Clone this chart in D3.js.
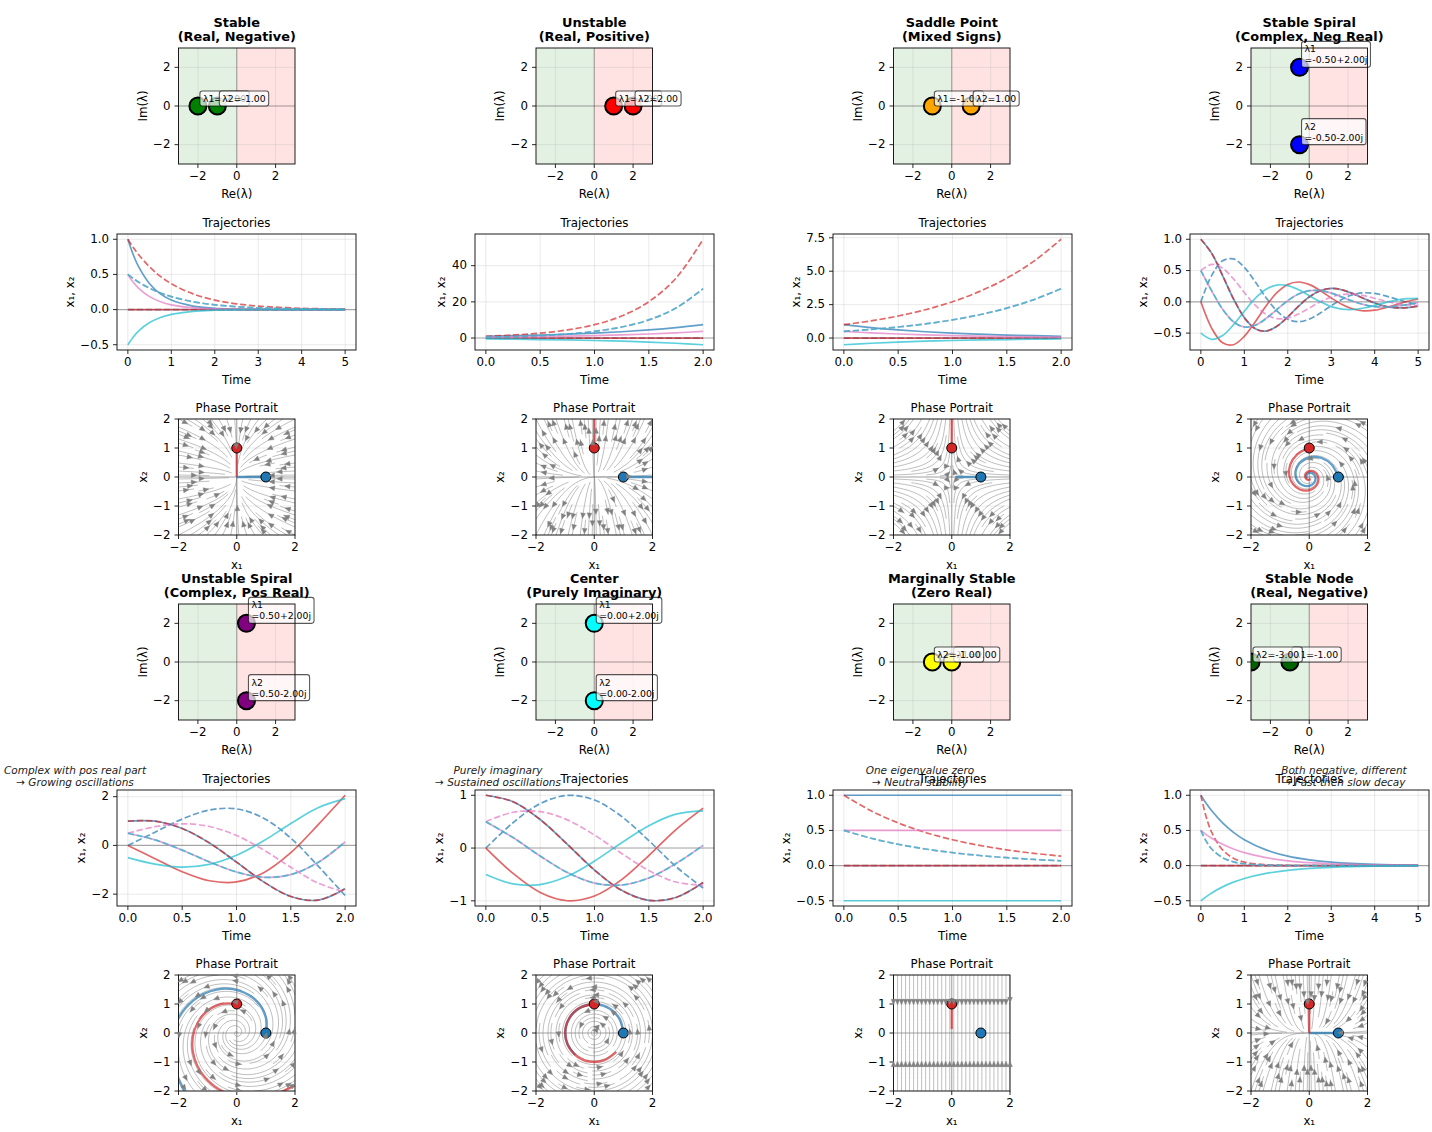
<!DOCTYPE html>
<html>
<head>
<meta charset="utf-8">
<script src="https://cdn.jsdelivr.net/npm/d3@7"></script>
<style>
  body { margin: 0; background: #fff; }
  text { font-family: "DejaVu Sans", sans-serif; fill: #000; }
</style>
</head>
<body>
<div id="maincontainer"></div>
<script>
// panel text
var titles = [
  ["Stable", "(Real, Negative)"], ["Unstable", "(Real, Positive)"],
  ["Saddle Point", "(Mixed Signs)"], ["Stable Spiral", "(Complex, Neg Real)"],
  ["Unstable Spiral", "(Complex, Pos Real)"], ["Center", "(Purely Imaginary)"],
  ["Marginally Stable", "(Zero Real)"], ["Stable Node", "(Real, Negative)"]
];
var notes = [
  null, null, null, null,
  ["Complex with pos real part", "→ Growing oscillations"],
  ["Purely imaginary", "→ Sustained oscillations"],
  ["One eigenvalue zero", "→ Neutral stability"],
  ["Both negative, different", "→ Fast then slow decay"]
];

// eigenvalues
var eigenRe = [[-2, -1], [1, 2], [-1, 1], [-0.5, -0.5], [0.5, 0.5], [0, 0], [0, -1], [-1, -3]];
var eigenIm = [[0, 0], [0, 0], [0, 0], [2, -2], [2, -2], [2, -2], [0, 0], [0, 0]];
var eigenLabels = [
  [["λ1=-2.00"], ["λ2=-1.00"]], [["λ1=1.00"], ["λ2=2.00"]], [["λ1=-1.00"], ["λ2=1.00"]],
  [["λ1", "=-0.50+2.00j"], ["λ2", "=-0.50-2.00j"]],
  [["λ1", "=0.50+2.00j"], ["λ2", "=0.50-2.00j"]],
  [["λ1", "=0.00+2.00j"], ["λ2", "=0.00-2.00j"]],
  [["λ1=0.00"], ["λ2=-1.00"]], [["λ1=-1.00"], ["λ2=-3.00"]]
];
var eigenColors = ["green", "red", "orange", "blue", "purple", "cyan", "yellow", "darkgreen"];

// system matrices for the phase portraits
var systemA = [
  [[-2, 0], [0, -1]], [[1, 0], [0, 2]], [[-1, 0], [0, 1]], [[-0.5, -2], [2, -0.5]],
  [[0.5, -2], [2, 0.5]], [[0, -2], [2, 0]], [[0, 0], [0, -1]], [[-1, 0], [0, -3]]
];

// time samples
var tLong = [0, 0.125, 0.25, 0.5, 0.75, 1, 1.5, 2, 2.5, 3, 4, 5];
var tShort = [0, 0.25, 0.5, 0.75, 1, 1.25, 1.5, 1.75, 2];
var tSpiral = [0, 0.25, 0.5, 0.75, 1, 1.25, 1.5, 1.75, 2, 2.25, 2.5, 2.75, 3, 3.25, 3.5, 3.75, 4, 4.25, 4.5, 4.75, 5];

var zerosLong = [0, 0, 0, 0, 0, 0, 0, 0, 0, 0, 0, 0];
var zerosShort = [0, 0, 0, 0, 0, 0, 0, 0, 0];

// Stable
var stableFast = [1, 0.779, 0.607, 0.368, 0.223, 0.135, 0.05, 0.018, 0.007, 0.002, 0, 0];
var stableFastHalf = [0.5, 0.389, 0.303, 0.184, 0.112, 0.068, 0.025, 0.009, 0.003, 0.001, 0, 0];
var stableFastNeg = [-0.5, -0.389, -0.303, -0.184, -0.112, -0.068, -0.025, -0.009, -0.003, -0.001, 0, 0];
var stableSlow = [1, 0.882, 0.779, 0.607, 0.472, 0.368, 0.223, 0.135, 0.082, 0.05, 0.018, 0.007];
var stableSlowHalf = [0.5, 0.441, 0.389, 0.303, 0.236, 0.184, 0.112, 0.068, 0.041, 0.025, 0.009, 0.003];

// Unstable
var growOne = [1, 1.284, 1.649, 2.117, 2.718, 3.49, 4.482, 5.755, 7.389];
var growOneHalf = [0.5, 0.642, 0.824, 1.059, 1.359, 1.745, 2.241, 2.878, 3.695];
var growOneNeg = [-0.5, -0.642, -0.824, -1.059, -1.359, -1.745, -2.241, -2.878, -3.695];
var growTwo = [1, 1.649, 2.718, 4.482, 7.389, 12.18, 20.09, 33.12, 54.6];
var growTwoHalf = [0.5, 0.824, 1.359, 2.241, 3.695, 6.09, 10.04, 16.56, 27.3];

// Saddle and marginal share the same slow decay
var decayOne = [1, 0.779, 0.607, 0.472, 0.368, 0.287, 0.223, 0.174, 0.135];
var decayHalf = [0.5, 0.389, 0.303, 0.236, 0.184, 0.143, 0.112, 0.087, 0.068];
var decayNeg = [-0.5, -0.389, -0.303, -0.236, -0.184, -0.143, -0.112, -0.087, -0.068];
var flatOne = [1, 1, 1, 1, 1, 1, 1, 1, 1];
var flatHalf = [0.5, 0.5, 0.5, 0.5, 0.5, 0.5, 0.5, 0.5, 0.5];
var flatNeg = [-0.5, -0.5, -0.5, -0.5, -0.5, -0.5, -0.5, -0.5, -0.5];

// Stable spiral
var ssA = [1, 0.7745, 0.4208, 0.0486, -0.2524, -0.4288, -0.4677, -0.3904, -0.2405, -0.0684, 0.0813, 0.1792, 0.2142, 0.1923, 0.131, 0.0532, -0.0197, -0.0719, -0.096, -0.0927, -0.0689];
var ssB = [0, 0.4231, 0.6554, 0.6856, 0.5515, 0.3204, 0.0667, -0.1462, -0.2784, -0.3174, -0.2747, -0.1784, -0.0623, 0.0424, 0.1142, 0.1439, 0.1339, 0.0953, 0.0434, -0.007, -0.0447];
var ssBNeg = [0, -0.4231, -0.6554, -0.6856, -0.5515, -0.3204, -0.0667, 0.1462, 0.2784, 0.3174, 0.2747, 0.1784, 0.0623, -0.0424, -0.1142, -0.1439, -0.1339, -0.0953, -0.0434, 0.007, 0.0447];
var ssP = [0.5, 0.1757, -0.1173, -0.3185, -0.402, -0.3746, -0.2672, -0.1221, 0.019, 0.1245, 0.178, 0.1788, 0.1383, 0.075, 0.0084, -0.0454, -0.0768, -0.0836, -0.0697, -0.0429, -0.0121];
var ssQ = [0.5, 0.5988, 0.5381, 0.3671, 0.1496, -0.0542, -0.2005, -0.2683, -0.2595, -0.1929, -0.0967, 0.0004, 0.076, 0.1174, 0.1226, 0.0986, 0.0571, 0.0117, -0.0263, -0.0499, -0.0568];
var ssQNeg = [-0.5, -0.5988, -0.5381, -0.3671, -0.1496, 0.0542, 0.2005, 0.2683, 0.2595, 0.1929, 0.0967, -0.0004, -0.076, -0.1174, -0.1226, -0.0986, -0.0571, -0.0117, 0.0263, 0.0499, 0.0568];

// Unstable spiral
var usA = [1, 0.9944, 0.6937, 0.1029, -0.6861, -1.4966, -2.0958, -2.2466, -1.7767];
var usB = [0, 0.5432, 1.0805, 1.4514, 1.4992, 1.1181, 0.2987, -0.8415, -2.0572];
var usBNeg = [0, -0.5432, -1.0805, -1.4514, -1.4992, -1.1181, -0.2987, 0.8415, 2.0572];
var usP = [0.5, 0.2256, -0.1934, -0.6743, -1.0927, -1.3074, -1.1973, -0.7026, 0.1403];
var usQ = [0.5, 0.7688, 0.8871, 0.7772, 0.4066, -0.1893, -0.8986, -1.5441, -1.917];
var usQNeg = [-0.5, -0.7688, -0.8871, -0.7772, -0.4066, 0.1893, 0.8986, 1.5441, 1.917];

// Center
var cnA = [1, 0.8776, 0.5403, 0.0707, -0.4161, -0.8011, -0.99, -0.9365, -0.6536];
var cnB = [0, 0.4794, 0.8415, 0.9975, 0.9093, 0.5985, 0.1411, -0.3508, -0.7568];
var cnBNeg = [0, -0.4794, -0.8415, -0.9975, -0.9093, -0.5985, -0.1411, 0.3508, 0.7568];
var cnP = [0.5, 0.1991, -0.1506, -0.4634, -0.6627, -0.6998, -0.5656, -0.2929, 0.0516];
var cnQ = [0.5, 0.6785, 0.6909, 0.5341, 0.2466, -0.1013, -0.4245, -0.6437, -0.7052];
var cnQNeg = [-0.5, -0.6785, -0.6909, -0.5341, -0.2466, 0.1013, 0.4245, 0.6437, 0.7052];

// Stable node
var nodeFast = [1, 0.687, 0.472, 0.223, 0.105, 0.05, 0.011, 0.002, 0.001, 0, 0, 0];
var nodeFastHalf = [0.5, 0.344, 0.236, 0.112, 0.053, 0.025, 0.006, 0.001, 0.001, 0, 0, 0];
var nodeSlowNeg = [-0.5, -0.441, -0.389, -0.303, -0.236, -0.184, -0.112, -0.068, -0.041, -0.025, -0.009, -0.003];

var trajTimes = [tLong, tShort, tShort, tSpiral, tShort, tShort, tShort, tLong];
// each row order: blue x1, blue x2, red x1, red x2, pink x1, pink x2, cyan x1, cyan x2
var trajSeries = [
  [stableFast, zerosLong, zerosLong, stableSlow, stableFastHalf, stableSlowHalf, stableFastNeg, stableSlowHalf],
  [growOne, zerosShort, zerosShort, growTwo, growOneHalf, growTwoHalf, growOneNeg, growTwoHalf],
  [decayOne, zerosShort, zerosShort, growOne, decayHalf, growOneHalf, decayNeg, growOneHalf],
  [ssA, ssB, ssBNeg, ssA, ssP, ssQ, ssQNeg, ssP],
  [usA, usB, usBNeg, usA, usP, usQ, usQNeg, usP],
  [cnA, cnB, cnBNeg, cnA, cnP, cnQ, cnQNeg, cnP],
  [flatOne, zerosShort, zerosShort, decayOne, flatHalf, decayHalf, flatNeg, decayHalf],
  [stableSlow, zerosLong, zerosLong, nodeFast, stableSlowHalf, nodeFastHalf, nodeSlowNeg, nodeFastHalf]
];
var trajXTicks = [[0, 1, 2, 3, 4, 5], [0, 0.5, 1, 1.5, 2], [0, 0.5, 1, 1.5, 2], [0, 1, 2, 3, 4, 5],
                  [0, 0.5, 1, 1.5, 2], [0, 0.5, 1, 1.5, 2], [0, 0.5, 1, 1.5, 2], [0, 1, 2, 3, 4, 5]];
var trajYTicks = [[-0.5, 0, 0.5, 1], [0, 20, 40], [0, 2.5, 5, 7.5], [-0.5, 0, 0.5, 1],
                  [-2, 0, 2], [-1, 0, 1], [-0.5, 0, 0.5, 1], [-0.5, 0, 0.5, 1]];
var trajXFormat = [".0f", ".1f", ".1f", ".0f", ".1f", ".1f", ".1f", ".0f"];
var trajYFormat = [".1f", ".0f", ".1f", ".1f", ".0f", ".0f", ".1f", ".1f"];

var icColors = ["#1f77b4", "#d62728", "#e377c2", "#17becf"];

// layout
var squareLeft = [178.5, 536, 893.5, 1251];
var wideLeft = [117, 475, 833, 1190];
var eigenTop = [48, 604];
var trajTop = [234, 790];
var phaseTop = [419, 975];
var noteX = [75, 498, 920, 1344];
var noteY = [774, 785.5];
var squareW = 116.5, wideW = 239, panelH = 116;
var fontSize = 11.8;

var svg = d3.select("#maincontainer").append("svg")
  .attr("width", 1432).attr("height", 1132)
  .style("display", "block");
var defs = svg.append("defs");
var clipCount = 0;

function addPanel(left, top, w, h, xDomain, yDomain, xTicks, yTicks, xFmt, yFmt, xLabel, yLabel) {
  var g = svg.append("g").attr("transform", "translate(" + left + "," + top + ")");
  var x = d3.scaleLinear().domain(xDomain).range([0, w]);
  var y = d3.scaleLinear().domain(yDomain).range([h, 0]);
  var id = "clip" + (clipCount++);
  defs.append("clipPath").attr("id", id).append("rect").attr("width", w).attr("height", h);
  var back = g.append("g");
  var grid = g.append("g");
  grid.selectAll("line.gx").data(xTicks).enter().append("line")
    .attr("x1", x).attr("x2", x).attr("y1", 0).attr("y2", h);
  grid.selectAll("line.gy").data(yTicks).enter().append("line")
    .attr("class", "gy")
    .attr("y1", y).attr("y2", y).attr("x1", 0).attr("x2", w);
  grid.selectAll("line").attr("stroke", "#b0b0b0").attr("stroke-opacity", 0.3).attr("stroke-width", 0.9);
  var plot = g.append("g").attr("clip-path", "url(#" + id + ")");
  var top_ = g.append("g");
  g.append("rect").attr("width", w).attr("height", h)
    .attr("fill", "none").attr("stroke", "#111").attr("stroke-width", 0.95);

  var ax = g.append("g").attr("transform", "translate(0," + h + ")")
    .call(d3.axisBottom(x).tickValues(xTicks).tickFormat(d3.format(xFmt)).tickSize(4).tickPadding(4).offset(0));
  var ay = g.append("g")
    .call(d3.axisLeft(y).tickValues(yTicks).tickFormat(d3.format(yFmt)).tickSize(4).tickPadding(4).offset(0));
  [ax, ay].forEach(function(a) {
    a.select(".domain").remove();
    a.attr("font-size", null).attr("font-family", null);
    a.selectAll("text").style("font-size", fontSize + "px");
    a.selectAll("line").attr("stroke", "#111").attr("stroke-width", 0.9);
  });
  var maxW = 0;
  ay.selectAll("text").each(function() { maxW = Math.max(maxW, this.getBBox().width); });

  g.append("text").attr("x", w / 2).attr("y", h + 33.5).attr("text-anchor", "middle")
    .style("font-size", fontSize + "px").text(xLabel);
  g.append("text").attr("text-anchor", "middle")
    .attr("transform", "translate(" + (-(maxW + 14.5)) + "," + (h / 2) + ") rotate(-90)")
    .style("font-size", fontSize + "px").text(yLabel);
  return { g: g, x: x, y: y, back: back, plot: plot, over: top_, w: w, h: h };
}

function zeroLines(p) {
  p.plot.append("line").attr("x1", 0).attr("x2", p.w).attr("y1", p.y(0)).attr("y2", p.y(0))
    .attr("stroke", "#000").attr("stroke-opacity", 0.3).attr("stroke-width", 1.1);
}
function zeroVert(p) {
  p.plot.append("line").attr("y1", 0).attr("y2", p.h).attr("x1", p.x(0)).attr("x2", p.x(0))
    .attr("stroke", "#000").attr("stroke-opacity", 0.3).attr("stroke-width", 1.1);
}

function drawEigen(i, left, top) {
  var p = addPanel(left, top, squareW, panelH, [-3, 3], [-3, 3], [-2, 0, 2], [-2, 0, 2], ".0f", ".0f", "Re(λ)", "Im(λ)");
  p.back.append("rect").attr("x", 0).attr("width", p.x(0)).attr("height", p.h)
    .attr("fill", "green").attr("fill-opacity", 0.11);
  p.back.append("rect").attr("x", p.x(0)).attr("width", p.w - p.x(0)).attr("height", p.h)
    .attr("fill", "red").attr("fill-opacity", 0.11);
  zeroLines(p);
  zeroVert(p);
  p.plot.selectAll("circle").data(eigenRe[i]).enter().append("circle")
    .attr("cx", function(d) { return p.x(d); })
    .attr("cy", function(d, k) { return p.y(eigenIm[i][k]); })
    .attr("r", 8.5)
    .attr("fill", eigenColors[i]).attr("stroke", "#000").attr("stroke-width", 2);

  eigenLabels[i].forEach(function(lines, k) {
    var px = p.x(eigenRe[i][k]), py = p.y(eigenIm[i][k]);
    var box = p.over.append("rect");
    var t = p.over.append("text").style("font-size", "9.3px");
    lines.forEach(function(line, n) {
      t.append("tspan").attr("x", px + 5)
        .attr("y", py - 4 - (lines.length - 1 - n) * 11)
        .text(line);
    });
    var b = t.node().getBBox();
    box.attr("x", b.x - 3).attr("y", b.y - 2).attr("width", b.width + 6).attr("height", b.height + 4)
      .attr("rx", 2.5).attr("fill", "#fff").attr("fill-opacity", 0.7)
      .attr("stroke", "#000").attr("stroke-opacity", 0.65).attr("stroke-width", 1.1);
  });

  titles[i].forEach(function(line, n) {
    svg.append("text").attr("x", left + squareW / 2).attr("y", top - 21.5 + n * 14.5)
      .attr("text-anchor", "middle").style("font-size", "12.9px").style("font-weight", "bold")
      .text(line);
  });
}

function drawTraj(i, left, top) {
  var times = trajTimes[i], rows = trajSeries[i];
  var tMax = d3.max(times);
  var lo = d3.min(rows, function(r) { return d3.min(r); });
  var hi = d3.max(rows, function(r) { return d3.max(r); });
  if (i == 4) lo = -2.27; // curve bottom falls between samples
  var pad = (hi - lo) * 0.05;
  var p = addPanel(left, top, wideW, panelH, [-tMax * 0.05, tMax * 1.05], [lo - pad, hi + pad],
    trajXTicks[i], trajYTicks[i], trajXFormat[i], trajYFormat[i], "Time", "x₁, x₂");
  zeroLines(p);
  var line = d3.line()
    .x(function(d, k) { return p.x(times[k]); })
    .y(function(d) { return p.y(d); })
    .curve(d3.curveCatmullRom.alpha(0.5));
  rows.forEach(function(r, k) {
    p.plot.append("path").attr("d", line(r)).attr("fill", "none")
      .attr("stroke", icColors[Math.floor(k / 2)]).attr("stroke-opacity", 0.7)
      .attr("stroke-width", 1.7)
      .attr("stroke-dasharray", k % 2 ? "6.3,2.7" : null);
  });
  svg.append("text").attr("x", left + wideW / 2).attr("y", top - 7.5).attr("text-anchor", "middle")
    .style("font-size", fontSize + "px").text("Trajectories");
}

// same walk as matplotlib streamplot: unit speed in axes units, 30x30 occupancy mask
function streamlines(A) {
  var n = 30, mask = d3.range(n).map(function() { return d3.range(n).map(function() { return 0; }); });
  var maxds = 1 / n, maxerror = 0.003, out = [];
  function f(ax, ay, sign) {
    if (ax < 0 || ax > 1 || ay < 0 || ay > 1) return "out";
    var dx = ax * 4 - 2, dy = ay * 4 - 2;
    var u = A[0][0] * dx + A[0][1] * dy, v = A[1][0] * dx + A[1][1] * dy;
    var s = Math.hypot(u, v);
    if (s == 0) return "stop";
    return [sign * u / s, sign * v / s];
  }
  var cur, traj;
  function setCell(ax, ay) {
    var xm = Math.round(ax * (n - 1)), ym = Math.round(ay * (n - 1));
    if (cur[0] != xm || cur[1] != ym) {
      if (mask[ym][xm] == 0) {
        traj.push([ym, xm]); mask[ym][xm] = 1; cur = [xm, ym];
      } else return false;
    }
    return true;
  }
  function walk(x0, y0, sign) {
    var s = 0, xi = x0, yi = y0, ds = maxds, pts = [], iter = 0;
    while (iter++ < 6000) {
      if (xi < 0 || xi > 1 || yi < 0 || yi > 1) break;
      pts.push([xi, yi]);
      var k1 = f(xi, yi, sign);
      if (k1 == "stop") break;
      var k2 = f(xi + ds * k1[0], yi + ds * k1[1], sign);
      if (k2 == "stop") break;
      if (k2 == "out") {
        // last short step up to the border
        var dsx = k1[0] == 0 ? Infinity : (k1[0] < 0 ? xi / -k1[0] : (1 - xi) / k1[0]);
        var dsy = k1[1] == 0 ? Infinity : (k1[1] < 0 ? yi / -k1[1] : (1 - yi) / k1[1]);
        var e = Math.min(dsx, dsy);
        pts.push([xi + e * k1[0], yi + e * k1[1]]);
        s += e;
        break;
      }
      var dx2 = ds * 0.5 * (k1[0] + k2[0]), dy2 = ds * 0.5 * (k1[1] + k2[1]);
      var err = Math.hypot(dx2 - ds * k1[0], dy2 - ds * k1[1]);
      if (err < maxerror) {
        xi += dx2; yi += dy2;
        if (xi >= 0 && xi <= 1 && yi >= 0 && yi <= 1 && !setCell(xi, yi)) break;
        if (s + ds > 4) break;
        s += ds;
      }
      ds = err == 0 ? maxds : Math.min(maxds, 0.85 * ds * Math.sqrt(maxerror / err));
    }
    return { s: s, pts: pts };
  }
  var xfirst = 0, yfirst = 1, xlast = n - 1, ylast = n - 1, x = 0, y = 0, dir = "right";
  for (var i = 0; i < n * n; i++) {
    if (mask[y][x] == 0) {
      var ax = x / (n - 1), ay = y / (n - 1);
      traj = []; cur = [x, y]; mask[y][x] = 1; traj.push([y, x]);
      var b = walk(ax, ay, -1);
      cur = [x, y];
      var fw = walk(ax, ay, 1);
      if (b.s + fw.s > 0.1) {
        out.push(b.pts.slice().reverse().concat(fw.pts.slice(1)));
      } else {
        traj.forEach(function(c) { mask[c[0]][c[1]] = 0; });
      }
    }
    if (dir == "right") { x++; if (x >= xlast) { xlast--; dir = "up"; } }
    else if (dir == "up") { y++; if (y >= ylast) { ylast--; dir = "left"; } }
    else if (dir == "left") { x--; if (x <= xfirst) { xfirst++; dir = "down"; } }
    else { y--; if (y <= yfirst) { yfirst++; dir = "right"; } }
  }
  return out;
}

function drawPhase(i, left, top) {
  var p = addPanel(left, top, squareW, panelH, [-2, 2], [-2, 2], [-2, 0, 2], [-2, -1, 0, 1, 2], ".0f", ".0f", "x₁", "x₂");
  zeroLines(p);
  zeroVert(p);
  var sx = function(d) { return p.x(d[0] * 4 - 2); }, sy = function(d) { return p.y(d[1] * 4 - 2); };
  var line = d3.line().x(sx).y(sy);
  var lines = streamlines(systemA[i]);
  lines.forEach(function(pts) {
    if (pts.length < 2) return;
    p.plot.append("path").attr("d", line(pts)).attr("fill", "none")
      .attr("stroke", "gray").attr("stroke-opacity", 0.85).attr("stroke-width", 0.6);
  });
  lines.forEach(function(pts) {
    if (pts.length < 3) return;
    var s = [0];
    for (var k = 1; k < pts.length; k++) s.push(s[k - 1] + Math.hypot(pts[k][0] - pts[k - 1][0], pts[k][1] - pts[k - 1][1]));
    var total = s[s.length - 1];
    // head sits a bit past the middle, on the side away from the origin
    var r0 = Math.hypot(pts[0][0] - 0.5, pts[0][1] - 0.5);
    var r1 = Math.hypot(pts[pts.length - 1][0] - 0.5, pts[pts.length - 1][1] - 0.5);
    var frac = r0 >= r1 ? 0.42 : 0.58;
    var n = d3.bisectLeft(s, total * frac);
    n = Math.min(n, pts.length - 2);
    var tx = sx(pts[n]), ty = sy(pts[n]);
    var ang = Math.atan2(sy(pts[n + 1]) - ty, sx(pts[n + 1]) - tx) * 180 / Math.PI;
    p.g.append("path").attr("d", "M2.7,0L-2.7,-2.4L-2.7,2.4Z")
      .attr("transform", "translate(" + tx + "," + ty + ") rotate(" + ang + ")")
      .attr("fill", "gray").attr("stroke", "gray").attr("stroke-width", 0.4);
  });

  // the two unit start states
  var rows = trajSeries[i];
  var path2 = d3.line()
    .x(function(d) { return p.x(d[0]); }).y(function(d) { return p.y(d[1]); })
    .curve(d3.curveCatmullRom.alpha(0.5));
  [0, 1].forEach(function(c) {
    var pts = rows[c * 2].map(function(v, k) { return [v, rows[c * 2 + 1][k]]; });
    p.plot.append("path").attr("d", path2(pts)).attr("fill", "none")
      .attr("stroke", icColors[c]).attr("stroke-opacity", 0.7).attr("stroke-width", 2.3);
    p.plot.append("circle").attr("cx", p.x(pts[0][0])).attr("cy", p.y(pts[0][1])).attr("r", 5)
      .attr("fill", icColors[c]).attr("stroke", "#000").attr("stroke-width", 1);
  });
  svg.append("text").attr("x", left + squareW / 2).attr("y", top - 7.5).attr("text-anchor", "middle")
    .style("font-size", fontSize + "px").text("Phase Portrait");
}

d3.range(8).forEach(function(i) {
  var c = i % 4, r = Math.floor(i / 4);
  drawEigen(i, squareLeft[c], eigenTop[r]);
  drawTraj(i, wideLeft[c], trajTop[r]);
  drawPhase(i, squareLeft[c], phaseTop[r]);
});

notes.forEach(function(lines, i) {
  if (!lines) return;
  lines.forEach(function(line, n) {
    svg.append("text").attr("x", noteX[i % 4]).attr("y", noteY[n]).attr("text-anchor", "middle")
      .style("font-size", "10.5px").style("font-style", "italic").style("fill", "#222")
      .text(line);
  });
});
</script>
</body>
</html>
